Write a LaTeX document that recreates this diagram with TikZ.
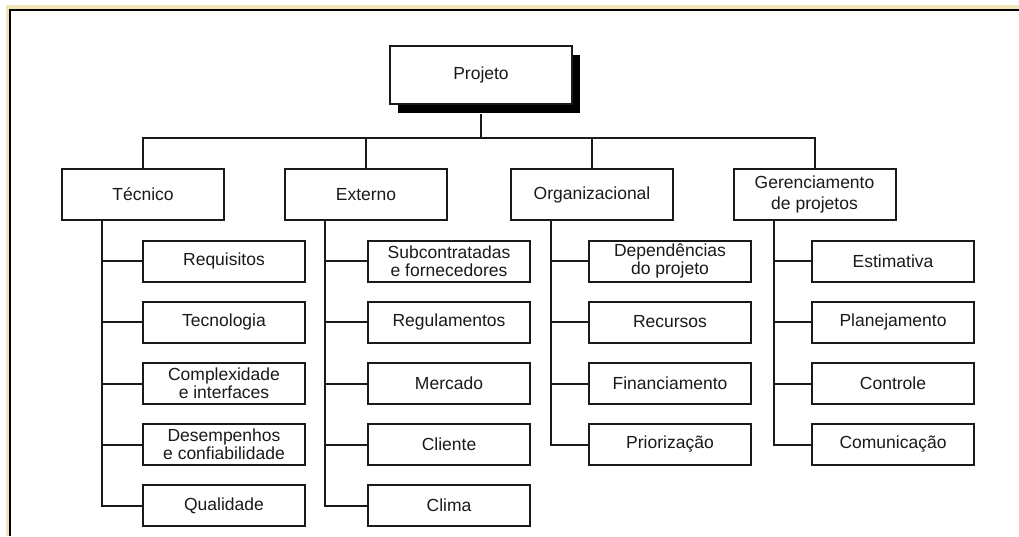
\documentclass[tikz,border=0pt]{standalone}
\usepackage{fontspec}
\setmainfont{Liberation Sans}
\usetikzlibrary{shadows}
\definecolor{ink}{HTML}{1A1A1A}
\definecolor{parch}{HTML}{F3E4BA}
\begin{document}
\begin{tikzpicture}[x=1pt,y=-1pt,
  every node/.style={text=ink},
  wire/.style={draw=ink,line width=2pt},
  topbox/.style={draw=ink,fill=white,line width=2pt,minimum width=182pt,minimum height=58pt,
    font=\fontsize{17.5}{20}\selectfont,
    drop shadow={fill=black,opacity=1,shadow xshift=8pt,shadow yshift=-9pt}},
  groupbox/.style={draw=ink,fill=white,line width=2pt,minimum width=162pt,minimum height=51pt,
    align=center,font=\fontsize{17.5}{21}\selectfont},
  itembox/.style={draw=ink,fill=white,line width=2pt,minimum width=162pt,minimum height=41pt,
    align=center,inner sep=1pt,font=\fontsize{17.5}{18}\selectfont}
]
\useasboundingbox (0,0) rectangle (1019,536);
\fill[white] (0,0) rectangle (1019,536);
% page frame: parchment edge and black rule along top and left
\fill[parch] (6,5) rectangle (1019,9);
\fill[parch] (6,5) rectangle (9,536);
\draw[line width=2pt,black] (10,536) -- (10,10) -- (1019,10);

% root
\node[topbox] (p) at (481,75) {Projeto};

% groups
\node[groupbox] (t) at (143,194.5) {Técnico};
\node[groupbox] (e) at (366,194.5) {Externo};
\node[groupbox] (o) at (592,194.5) {Organizacional};
\node[groupbox] (g) at (814.5,194.5) {Gerenciamento\\de projetos};

% items: Técnico
\node[itembox] (t1) at (224,261) {Requisitos};
\node[itembox] (t2) at (224,322) {Tecnologia};
\node[itembox] (t3) at (224,383.5) {Complexidade\\e interfaces};
\node[itembox] (t4) at (224,444.5) {Desempenhos\\e confiabilidade};
\node[itembox] (t5) at (224,505.5) {Qualidade};
% items: Externo
\node[itembox] (e1) at (449,261) {Subcontratadas\\e fornecedores};
\node[itembox] (e2) at (449,322) {Regulamentos};
\node[itembox] (e3) at (449,383.5) {Mercado};
\node[itembox] (e4) at (449,444.5) {Cliente};
\node[itembox] (e5) at (449,505.5) {Clima};
% items: Organizacional
\node[itembox] (o1) at (670,261) {Dependências\\do projeto};
\node[itembox] (o2) at (670,322) {Recursos};
\node[itembox] (o3) at (670,383.5) {Financiamento};
\node[itembox] (o4) at (670,444.5) {Priorização};
% items: Gerenciamento de projetos
\node[itembox] (g1) at (893,261) {Estimativa};
\node[itembox] (g2) at (893,322) {Planejamento};
\node[itembox] (g3) at (893,383.5) {Controle};
\node[itembox] (g4) at (893,444.5) {Comunicação};

% root to groups
\coordinate (bar) at (481,138);
\draw[wire] (p.south) ++(0,9) -- (bar);
\foreach \n in {t,e,o,g} \draw[wire] (\n.north) |- (bar);

% group spines to items
\foreach \n/\items in {t/{t1,t2,t3,t4,t5},e/{e1,e2,e3,e4,e5},o/{o1,o2,o3,o4},g/{g1,g2,g3,g4}}{
  \coordinate (\n s) at ([xshift=-41pt]\n.south);
  \foreach \c in \items \draw[wire] (\n s) |- (\c.west);
}
\end{tikzpicture}
\end{document}
